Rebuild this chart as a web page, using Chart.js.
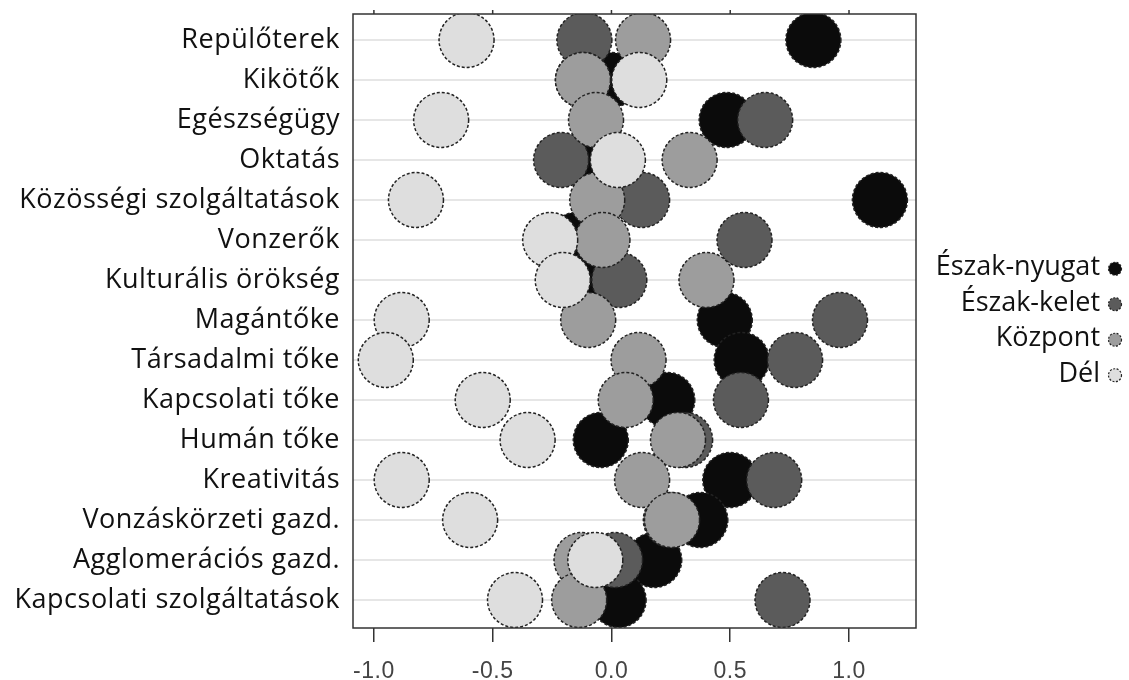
<!DOCTYPE html>
<html>
<head>
<meta charset="utf-8">
<script src="https://cdn.jsdelivr.net/npm/chart.js@4.4.0/dist/chart.umd.min.js"></script>
<style>
  html, body { margin: 0; padding: 0; background: #fff; }
  #wrap { width: 1129px; height: 680px; }
</style>
</head>
<body>
<div id="wrap"><canvas id="myChart"></canvas></div>
<script>
// 1. Data (top row first)
const categories = [
    'Repülőterek', 'Kikötők', 'Egészségügy', 'Oktatás', 'Közösségi szolgáltatások',
    'Vonzerők', 'Kulturális örökség', 'Magántőke', 'Társadalmi tőke', 'Kapcsolati tőke',
    'Humán tőke', 'Kreativitás', 'Vonzáskörzeti gazd.', 'Agglomerációs gazd.', 'Kapcsolati szolgáltatások'
];
const xTicks = [-1.0, -0.5, 0.0, 0.5, 1.0];
const seriesNames = ['Észak-nyugat', 'Észak-kelet', 'Központ', 'Dél'];

const northWest = [0.85, 0.00, 0.485, -0.09, 1.13, -0.15, -0.09, 0.477, 0.548, 0.235, -0.045, 0.50, 0.374, 0.18, 0.03];
const northEast = [-0.114, -0.12, 0.647, -0.212, 0.129, 0.56, 0.033, 0.962, 0.773, 0.545, 0.31, 0.685, 0.25, 0.015, 0.72];
const center = [0.133, -0.12, -0.065, 0.329, -0.06, -0.038, 0.40, -0.098, 0.114, 0.06, 0.28, 0.129, 0.255, -0.126, -0.136];
const south = [-0.61, 0.117, -0.717, 0.027, -0.823, -0.258, -0.205, -0.883, -0.95, -0.542, -0.353, -0.883, -0.595, -0.068, -0.406];

const seriesValues = [northWest, northEast, center, south];
const seriesColors = ['#0b0b0b', '#5b5b5b', '#9d9d9d', '#dedede'];

const labelFont = 'Open Sans';
const labelSize = 27;

// 2. Build datasets (row 0 = top)
const rowY = i => categories.length - 1 - i;
const datasets = seriesValues.map((vals, s) => ({
    label: seriesNames[s],
    data: vals.map((v, i) => ({ x: v, y: rowY(i) })),
    backgroundColor: seriesColors[s],
    borderColor: '#222',
    borderWidth: 1.5,
    pointRadius: 27.5,
    pointHoverRadius: 27.5,
    clip: 0,
    order: seriesValues.length - s   // Dél ends up on top
}));

// 3. Small plugins: letter spacing, dashed circle edges, frame, legend
const spacingPlugin = {
    id: 'letterSpacing',
    beforeDraw(chart) { chart.ctx.letterSpacing = '0.5px'; },
    afterDraw(chart) { chart.ctx.letterSpacing = '0px'; }
};

const dashPlugin = {
    id: 'dashEdges',
    beforeDatasetDraw(chart) { chart.ctx.save(); chart.ctx.setLineDash([3, 2]); },
    afterDatasetDraw(chart) { chart.ctx.restore(); }
};

const framePlugin = {
    id: 'frame',
    afterDraw(chart) {
        const { ctx, chartArea: a, scales } = chart;
        ctx.save();
        ctx.strokeStyle = '#333';
        ctx.lineWidth = 1.5;
        ctx.strokeRect(a.left, a.top, a.right - a.left, a.bottom - a.top);
        // little ticks on top edge
        xTicks.forEach(v => {
            const px = scales.x.getPixelForValue(v);
            ctx.beginPath();
            ctx.moveTo(px, a.top);
            ctx.lineTo(px, a.top - 4);
            ctx.stroke();
        });
        ctx.restore();
    }
};

const legendPlugin = {
    id: 'rightLegend',
    afterDraw(chart) {
        const { ctx, chartArea: a } = chart;
        const textRight = a.right + 184;
        const midY = (a.top + a.bottom) / 2;
        ctx.save();
        ctx.font = labelSize + 'px "' + labelFont + '"';
        ctx.textAlign = 'right';
        ctx.textBaseline = 'middle';
        chart.data.datasets.forEach((ds, i) => {
            const y = midY + (i - 1.5) * 35.5;
            ctx.fillStyle = '#111';
            ctx.fillText(ds.label, textRight, y);
            ctx.beginPath();
            ctx.arc(textRight + 15, y + 1, 6.5, 0, Math.PI * 2);
            ctx.fillStyle = ds.backgroundColor;
            ctx.fill();
            ctx.setLineDash([2, 1.5]);
            ctx.lineWidth = 1.2;
            ctx.strokeStyle = '#222';
            ctx.stroke();
            ctx.setLineDash([]);
        });
        ctx.restore();
    }
};

// 4. Chart
const ctx = document.getElementById('myChart').getContext('2d');
const myChart = new Chart(ctx, {
    type: 'scatter',
    data: { datasets },
    plugins: [spacingPlugin, dashPlugin, framePlugin, legendPlugin],
    options: {
        responsive: true,
        maintainAspectRatio: false,
        animation: false,
        events: [],
        layout: { autoPadding: false, padding: { top: 14, right: 213, left: 0, bottom: 0 } },
        plugins: { legend: { display: false }, tooltip: { enabled: false } },
        scales: {
            x: {
                type: 'linear',
                min: -1.088,
                max: 1.282,
                afterBuildTicks: s => { s.ticks = xTicks.map(v => ({ value: v })); },
                afterFit: s => { s.height = 52; s.paddingLeft = 0; s.paddingRight = 0; },
                border: { display: false },
                grid: { drawOnChartArea: false, drawTicks: true, tickLength: 14, color: '#333', lineWidth: 1.5 },
                ticks: {
                    autoSkip: false, maxRotation: 0, padding: 16,
                    font: { family: 'Liberation Sans', size: 23 },
                    color: '#444',
                    callback: v => Number(v).toFixed(1)
                }
            },
            y: {
                type: 'linear',
                min: -0.7,
                max: 14.65,
                afterBuildTicks: s => { s.ticks = categories.map((c, i) => ({ value: i })); },
                afterFit: s => { s.width = 353; s.paddingTop = 0; s.paddingBottom = 0; },
                border: { display: false },
                grid: { drawTicks: false, color: '#e6e6e6', lineWidth: 2 },
                ticks: {
                    autoSkip: false, padding: 13,
                    font: { family: labelFont, size: labelSize },
                    color: '#111',
                    callback: v => categories[categories.length - 1 - v]
                }
            }
        }
    }
});
</script>
</body>
</html>
